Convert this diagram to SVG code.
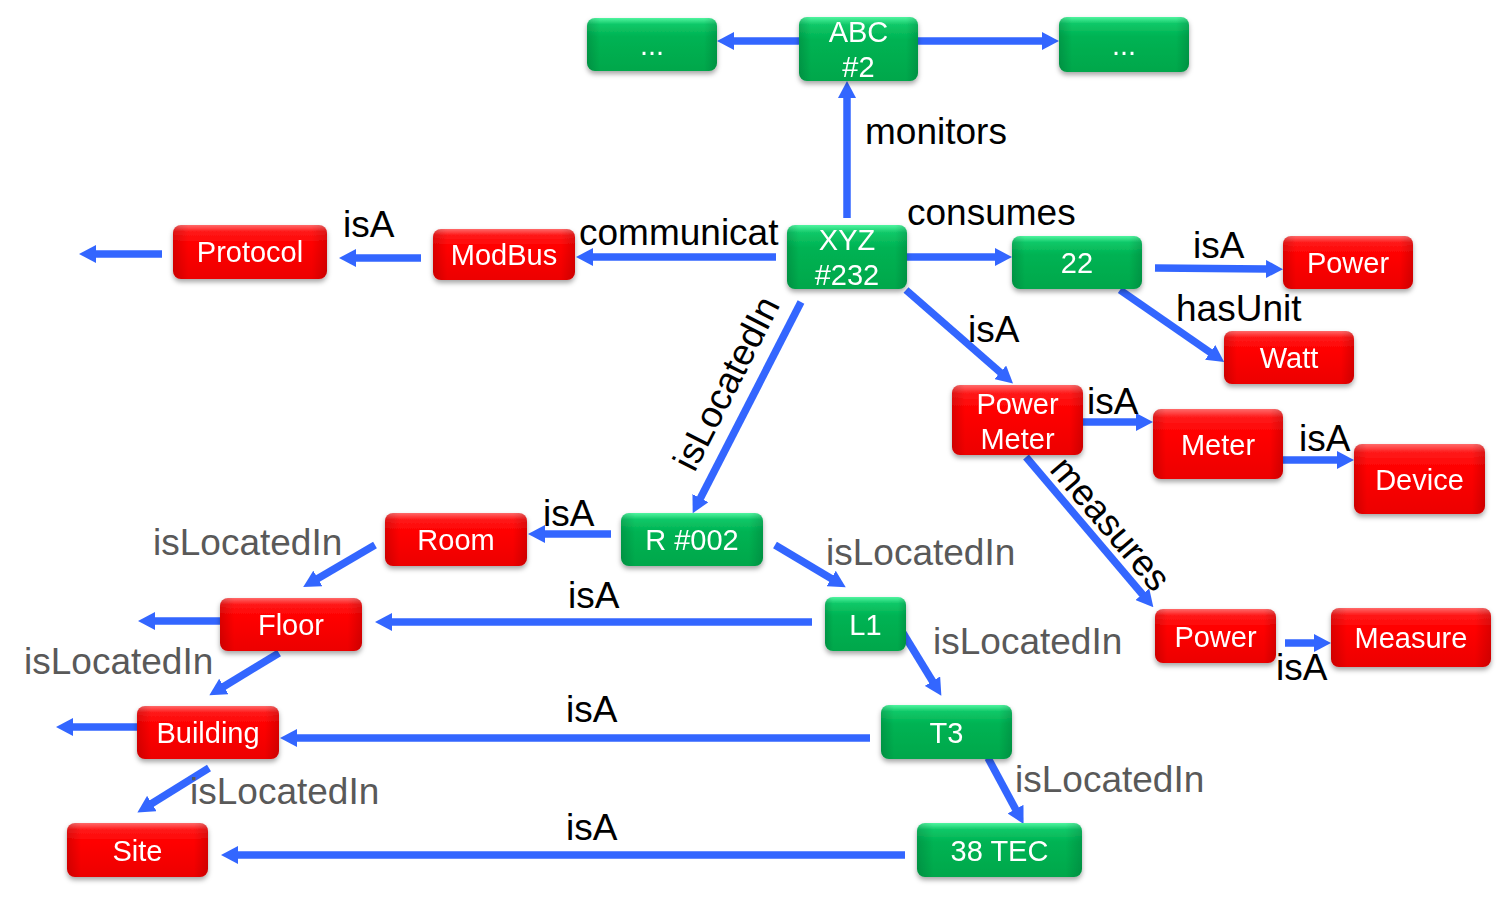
<svg xmlns="http://www.w3.org/2000/svg" width="1501" height="899" viewBox="0 0 1501 899">
<style>
  text { font-family: "Liberation Sans", Arial, sans-serif; }
  .nt { fill: #ffffff; font-size: 29px; text-anchor: middle; }
  .lb { fill: #000000; font-size: 37px; }
  .lg { fill: #595959; font-size: 37px; }
  .green .base { fill: url(#gGreen); }
  .red .base { fill: url(#gRed); }
  .node .edge { fill: url(#gEdge); }
  .node { filter: url(#shadow); }
  #connectors line { stroke: #3366FF; stroke-width: 7.5; stroke-linecap: butt; marker-end: url(#ah); }
</style>
<defs>
  <linearGradient id="gGreen" x1="0" y1="0" x2="0" y2="1">
    <stop offset="0" stop-color="#50f5a0"/>
    <stop offset="0.12" stop-color="#10c868"/>
    <stop offset="0.35" stop-color="#00b353"/>
    <stop offset="1" stop-color="#00a74b"/>
  </linearGradient>
  <linearGradient id="gRed" x1="0" y1="0" x2="0" y2="1">
    <stop offset="0" stop-color="#ff6a6a"/>
    <stop offset="0.12" stop-color="#ff1a1a"/>
    <stop offset="0.35" stop-color="#ff0000"/>
    <stop offset="1" stop-color="#ec0000"/>
  </linearGradient>
  <linearGradient id="gEdge" x1="0" y1="0" x2="1" y2="0">
    <stop offset="0" stop-color="#000" stop-opacity="0.14"/>
    <stop offset="0.1" stop-color="#000" stop-opacity="0"/>
    <stop offset="0.9" stop-color="#000" stop-opacity="0"/>
    <stop offset="1" stop-color="#000" stop-opacity="0.14"/>
  </linearGradient>
  <filter id="shadow" x="-10%" y="-10%" width="120%" height="140%">
    <feDropShadow dx="0" dy="3" stdDeviation="2.5" flood-color="#000" flood-opacity="0.35"/>
  </filter>
  <marker id="ah" markerUnits="userSpaceOnUse" markerWidth="17" markerHeight="18" refX="1" refY="9" orient="auto" viewBox="0 0 17 18">
    <path d="M0,0 L17,9 L0,18 z" fill="#3366FF"/>
  </marker>
</defs>

<g id="connectors">
  <line x1="799" y1="41" x2="733" y2="41"/>
  <line x1="918" y1="41" x2="1043" y2="41"/>
  <line x1="847" y1="218" x2="847" y2="97"/>
  <line x1="907" y1="257" x2="996" y2="257"/>
  <line x1="776" y1="257" x2="592" y2="257"/>
  <line x1="421" y1="258" x2="355" y2="258"/>
  <line x1="162" y1="254" x2="95" y2="254"/>
  <line x1="1155" y1="268" x2="1267" y2="269"/>
  <line x1="1120" y1="290" x2="1211" y2="353"/>
  <line x1="906" y1="290" x2="1001" y2="373"/>
  <line x1="1083" y1="422" x2="1137" y2="422"/>
  <line x1="1283" y1="460" x2="1338" y2="460"/>
  <line x1="1026" y1="457" x2="1143" y2="595"/>
  <line x1="1285" y1="643" x2="1315" y2="643"/>
  <line x1="801" y1="302" x2="700" y2="499"/>
  <line x1="611" y1="534" x2="544" y2="534"/>
  <line x1="775" y1="545" x2="832" y2="579"/>
  <line x1="375" y1="545" x2="317" y2="579"/>
  <line x1="812" y1="622" x2="391" y2="622"/>
  <line x1="220" y1="621" x2="154" y2="621"/>
  <line x1="279" y1="653" x2="223" y2="687"/>
  <line x1="903" y1="633" x2="933" y2="682"/>
  <line x1="870" y1="738" x2="296" y2="738"/>
  <line x1="137" y1="727" x2="72" y2="727"/>
  <line x1="209" y1="768" x2="151" y2="804"/>
  <line x1="988" y1="758" x2="1016" y2="810"/>
  <line x1="905" y1="855" x2="237" y2="855"/>
</g>

<g id="labels">
  <text class="lb" x="865" y="144">monitors</text>
  <text class="lb" x="907" y="225">consumes</text>
  <text class="lb" x="579" y="245">communicat</text>
  <text class="lb" x="343" y="237">isA</text>
  <text class="lb" x="1193" y="258">isA</text>
  <text class="lb" x="1176" y="321">hasUnit</text>
  <text class="lb" x="968" y="342">isA</text>
  <text class="lb" x="1087" y="414">isA</text>
  <text class="lb" x="1299" y="451">isA</text>
  <text class="lb" text-anchor="middle" transform="translate(1108,526) rotate(49.6)" y="9">measures</text>
  <text class="lb" x="1276" y="680">isA</text>
  <text class="lb" text-anchor="middle" transform="translate(726,383) rotate(-62.9)" y="13">isLocatedIn</text>
  <text class="lb" x="543" y="526">isA</text>
  <text class="lg" x="826" y="565">isLocatedIn</text>
  <text class="lb" x="568" y="608">isA</text>
  <text class="lg" x="933" y="654">isLocatedIn</text>
  <text class="lg" x="153" y="555">isLocatedIn</text>
  <text class="lg" x="24" y="674">isLocatedIn</text>
  <text class="lb" x="566" y="722">isA</text>
  <text class="lg" x="190" y="804">isLocatedIn</text>
  <text class="lg" x="1015" y="792">isLocatedIn</text>
  <text class="lb" x="566" y="840">isA</text>
</g>

<g id="n-dots-left" class="node green"><rect class="base" x="587" y="18" width="130" height="53" rx="8"/><rect class="edge" x="587" y="18" width="130" height="53" rx="8"/><text class="nt" x="652" y="55">...</text></g>
<g id="n-abc2" class="node green"><rect class="base" x="799" y="17" width="119" height="64" rx="8"/><rect class="edge" x="799" y="17" width="119" height="64" rx="8"/><text class="nt" x="858.5" y="42">ABC</text><text class="nt" x="858.5" y="77">#2</text></g>
<g id="n-dots-right" class="node green"><rect class="base" x="1059" y="17" width="130" height="55" rx="8"/><rect class="edge" x="1059" y="17" width="130" height="55" rx="8"/><text class="nt" x="1124" y="55">...</text></g>
<g id="n-xyz232" class="node green"><rect class="base" x="787" y="225" width="120" height="64" rx="8"/><rect class="edge" x="787" y="225" width="120" height="64" rx="8"/><text class="nt" x="847" y="250">XYZ</text><text class="nt" x="847" y="285">#232</text></g>
<g id="n-22" class="node green"><rect class="base" x="1012" y="236" width="130" height="53" rx="8"/><rect class="edge" x="1012" y="236" width="130" height="53" rx="8"/><text class="nt" x="1077" y="273">22</text></g>
<g id="n-power-top" class="node red"><rect class="base" x="1283" y="236" width="130" height="53" rx="8"/><rect class="edge" x="1283" y="236" width="130" height="53" rx="8"/><text class="nt" x="1348" y="273">Power</text></g>
<g id="n-watt" class="node red"><rect class="base" x="1224" y="331" width="130" height="53" rx="8"/><rect class="edge" x="1224" y="331" width="130" height="53" rx="8"/><text class="nt" x="1289" y="368">Watt</text></g>
<g id="n-protocol" class="node red"><rect class="base" x="173" y="225" width="154" height="54" rx="8"/><rect class="edge" x="173" y="225" width="154" height="54" rx="8"/><text class="nt" x="250" y="262">Protocol</text></g>
<g id="n-modbus" class="node red"><rect class="base" x="433" y="229" width="142" height="51" rx="8"/><rect class="edge" x="433" y="229" width="142" height="51" rx="8"/><text class="nt" x="504" y="265">ModBus</text></g>
<g id="n-powermeter" class="node red"><rect class="base" x="952" y="385" width="131" height="70" rx="8"/><rect class="edge" x="952" y="385" width="131" height="70" rx="8"/><text class="nt" x="1017.5" y="414">Power</text><text class="nt" x="1017.5" y="449">Meter</text></g>
<g id="n-meter" class="node red"><rect class="base" x="1153" y="409" width="130" height="70" rx="8"/><rect class="edge" x="1153" y="409" width="130" height="70" rx="8"/><text class="nt" x="1218" y="455">Meter</text></g>
<g id="n-device" class="node red"><rect class="base" x="1354" y="444" width="131" height="70" rx="8"/><rect class="edge" x="1354" y="444" width="131" height="70" rx="8"/><text class="nt" x="1419.5" y="490">Device</text></g>
<g id="n-room" class="node red"><rect class="base" x="385" y="513" width="142" height="53" rx="8"/><rect class="edge" x="385" y="513" width="142" height="53" rx="8"/><text class="nt" x="456" y="550">Room</text></g>
<g id="n-r002" class="node green"><rect class="base" x="621" y="513" width="142" height="53" rx="8"/><rect class="edge" x="621" y="513" width="142" height="53" rx="8"/><text class="nt" x="692" y="550">R #002</text></g>
<g id="n-l1" class="node green"><rect class="base" x="825" y="597" width="81" height="54" rx="8"/><rect class="edge" x="825" y="597" width="81" height="54" rx="8"/><text class="nt" x="865.5" y="635">L1</text></g>
<g id="n-floor" class="node red"><rect class="base" x="220" y="598" width="142" height="53" rx="8"/><rect class="edge" x="220" y="598" width="142" height="53" rx="8"/><text class="nt" x="291" y="635">Floor</text></g>
<g id="n-power-low" class="node red"><rect class="base" x="1155" y="609" width="121" height="54" rx="8"/><rect class="edge" x="1155" y="609" width="121" height="54" rx="8"/><text class="nt" x="1215.5" y="647">Power</text></g>
<g id="n-measure" class="node red"><rect class="base" x="1331" y="608" width="160" height="59" rx="8"/><rect class="edge" x="1331" y="608" width="160" height="59" rx="8"/><text class="nt" x="1411" y="648">Measure</text></g>
<g id="n-t3" class="node green"><rect class="base" x="881" y="705" width="131" height="54" rx="8"/><rect class="edge" x="881" y="705" width="131" height="54" rx="8"/><text class="nt" x="946.5" y="743">T3</text></g>
<g id="n-building" class="node red"><rect class="base" x="137" y="706" width="142" height="53" rx="8"/><rect class="edge" x="137" y="706" width="142" height="53" rx="8"/><text class="nt" x="208" y="743">Building</text></g>
<g id="n-38tec" class="node green"><rect class="base" x="917" y="823" width="165" height="54" rx="8"/><rect class="edge" x="917" y="823" width="165" height="54" rx="8"/><text class="nt" x="999.5" y="861">38 TEC</text></g>
<g id="n-site" class="node red"><rect class="base" x="67" y="823" width="141" height="54" rx="8"/><rect class="edge" x="67" y="823" width="141" height="54" rx="8"/><text class="nt" x="137.5" y="861">Site</text></g>
</svg>
